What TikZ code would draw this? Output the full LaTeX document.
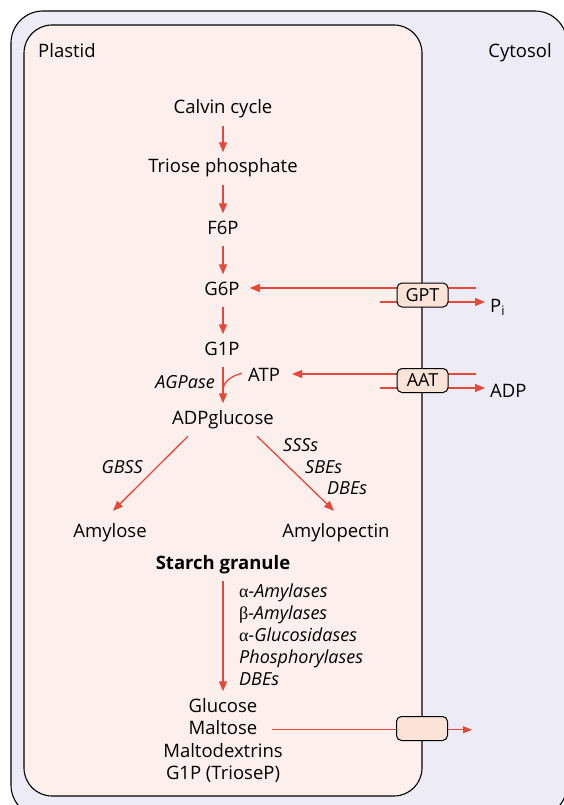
\documentclass[tikz,border=0pt]{standalone}
\usepackage{fontspec}
\setmainfont{Open Sans}
\newfontfamily\grk{Liberation Serif}
\usetikzlibrary{arrows.meta}
\pgfdeclarelayer{bg}
\pgfdeclarelayer{lines}
\pgfsetlayers{bg,lines,main}
\definecolor{plastidfill}{HTML}{FDF0EC}
\definecolor{cytofill}{HTML}{EDECF6}
\definecolor{arrred}{HTML}{E8473B}
\definecolor{transfill}{HTML}{FCE3D8}
\begin{document}
\begin{tikzpicture}[x=1pt,y=-1pt,
  lab/.style={font=\fontsize{18.5}{21}\selectfont, text height=12.5pt, text depth=4pt, inner xsep=2pt, inner ysep=8pt, anchor=base},
  enz/.style={font=\fontsize{18}{21}\selectfont\itshape, inner sep=0pt, anchor=base west},
  arr/.style={draw=arrred, line width=1.3pt, -{Triangle[length=10pt,width=8pt]}},
  thinarr/.style={draw=arrred, line width=1pt, -{Triangle[length=9pt,width=7pt]}},
  rline/.style={draw=arrred, line width=1.3pt},
  trans/.style={draw=black, line width=1pt, fill=transfill, rounded corners=5pt, minimum width=51pt, minimum height=24pt, inner sep=0pt, font=\fontsize{18}{21}\selectfont},
  membrane/.style={draw=black, line width=1.1pt}
]
\useasboundingbox (0,0) rectangle (564,805);
\begin{pgfonlayer}{bg}
\draw[membrane, fill=cytofill, rounded corners=32pt] (11,11) rectangle (567,817);
\draw[membrane, fill=plastidfill, rounded corners=28pt] (24,25) rectangle (422,796);
\end{pgfonlayer}

% compartment labels
\node[lab, anchor=base west, inner sep=0pt] (plastid) at (38,58) {Plastid};
\node[lab, anchor=base east, inner sep=0pt] (cytosol) at (552,58) {Cytosol};

% main pathway
\node[lab] (cc) at (223,114) {Calvin cycle};
\node[lab] (tp) at (223,173) {Triose phosphate};
\node[lab] (f6p) at (223,234) {F6P};
\node[lab] (g6p) at (222,295) {G6P};
\node[lab] (g1p) at (222,355) {G1P};
\node[lab] (atp) at (264,381) {ATP};
\node[enz, anchor=base east] (agp) at (215,388) {AGPase};
\node[lab] (adpg) at (223,424) {ADPglucose};

\node[lab] (amy) at (110,537) {Amylose};
\node[lab] (amp) at (336,537) {Amylopectin};
\node[enz, anchor=base east] (gbss) at (143,473) {GBSS};
\node[enz] (sss) at (283,451) {SSSs};
\node[enz] (sbe) at (305,473) {SBEs};
\node[enz] (dbe1) at (327,494) {DBEs};

\node[lab, font=\fontsize{18.5}{21}\selectfont\bfseries] (sg) at (223,569) {Starch granule};
\node[enz] (aamy) at (239,597) {{\upshape\grk α}-Amylases};
\node[enz] (bamy) at (239,619) {{\upshape\grk β}-Amylases};
\node[enz] (agluc) at (239,641) {{\upshape\grk α}-Glucosidases};
\node[enz] (phos) at (239,663) {Phosphorylases};
\node[enz] (dbe2) at (239,685) {DBEs};

\node[lab] (glc) at (223,712) {Glucose};
\node[lab] (mal) at (223,734) {Maltose};
\node[lab] (mdx) at (223,757) {Maltodextrins};
\node[lab] (g1pt) at (223,779) {G1P (TrioseP)};

% transporters
\node[trans] (gpt) at (422.5,295) {GPT};
\node[trans] (aat) at (422.5,380.5) {AAT};
\node[trans] (tr3) at (422,728.5) {};
\node[lab, anchor=base west, inner sep=0pt] (pi) at (490,312) {P\textsubscript{i}};
\node[lab, anchor=base west, inner sep=0pt] (adp) at (490,397) {ADP};

\coordinate (gptin) at (476,288);
\coordinate (gptout) at (380,302);
\coordinate (aatin) at (476,374);
\coordinate (aatout) at (380,388);
\coordinate (join) at (223,391);
\coordinate (outtip) at (472,0);
\coordinate (col) at (223,0);

\begin{pgfonlayer}{lines}
\draw[arr] (cc.south) -- (tp.north);
\draw[arr] (tp.south) -- (f6p.north);
\draw[arr] (f6p.south) -- (g6p.north -| col);
\draw[arr] (g6p.south -| col) -- (g1p.north -| col);
\draw[arr] (g1p.south -| col) -- (adpg.north);
\draw[rline] ([xshift=-4pt,yshift=3.5pt]atp.west) to[out=195,in=90] (join);

\draw[arr, shorten >=8pt] (gptin) -- (g6p.east |- gptin);
\draw[arr, shorten >=5pt] (gptout) -- (pi.west |- gptout);
\draw[arr, shorten >=10pt] (aatin) -- (atp.east |- aatin);
\draw[arr, shorten >=5pt] (aatout) -- (adp.west |- aatout);

\draw[arr] ([xshift=-35pt]adpg.south) -- ([xshift=3pt,yshift=5.5pt]amy.north);
\draw[arr] ([xshift=34pt]adpg.south) -- ([xshift=-2pt,yshift=5.5pt]amp.north);

\draw[arr] (sg.south) -- (glc.north);
\draw[thinarr] ([xshift=13pt]mal.east) -- (mal.east -| outtip);
\end{pgfonlayer}
\end{tikzpicture}
\end{document}
